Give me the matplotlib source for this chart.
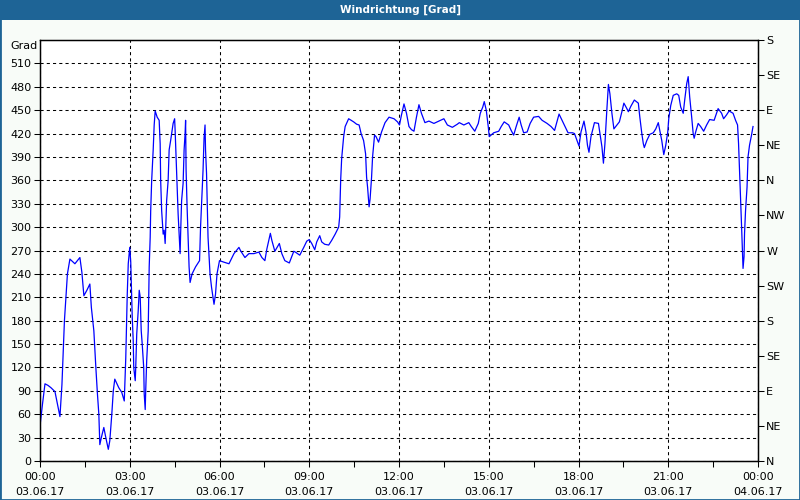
import matplotlib
matplotlib.use("Agg")
import matplotlib.pyplot as plt
import numpy as np
from matplotlib.ticker import MultipleLocator
from matplotlib.patches import Rectangle

# time of each reading in minutes after 03.06.17 00:00
minutes = [0, 5, 10, 16, 22, 30, 35, 40, 44, 46, 49, 52, 55, 60, 70, 80, 84, 88, 94, 100,
           103, 108, 112, 115, 118, 120, 123, 128, 132, 137, 140, 144, 147, 150, 158, 164, 169,
           172, 175, 177, 180, 182, 184, 185, 187, 188, 191, 192, 194, 197, 199, 201, 203, 205,
           208, 209, 211, 212, 214, 217, 219, 221, 222, 224, 227, 229, 231, 235, 239, 241, 242,
           244, 247, 249, 251, 252, 254, 257, 259, 262, 265, 267, 270, 271, 273, 275, 277, 279,
           281, 282, 284, 287, 289, 291, 292, 293, 295, 299, 301, 305, 312, 320, 322, 325, 327,
           329, 331, 332, 334, 337, 341, 344, 347, 349, 352, 355, 360, 369, 379, 389, 399, 402,
           411, 419, 429, 439, 445, 451, 455, 462, 465, 471, 480, 485, 491, 500, 509, 512, 521,
           529, 535, 540, 545, 551, 555, 561, 565, 571, 579, 585, 592, 599, 601, 603, 605, 609,
           612, 619, 629, 635, 640, 644, 649, 653, 655, 657, 660, 662, 665, 667, 671, 674, 679,
           685, 692, 700, 710, 717, 721, 725, 730, 735, 740, 745, 750, 755, 760, 765, 772, 780,
           790, 800, 810, 817, 827, 837, 841, 850, 860, 865, 872, 879, 883, 888, 891, 895, 899,
           901, 910, 920, 925, 931, 940, 945, 950, 955, 961, 965, 970, 977, 983, 990, 1000, 1007,
           1017, 1025, 1032, 1041, 1047, 1053, 1059, 1068, 1072, 1077, 1081, 1085, 1091, 1095,
           1098, 1101, 1105, 1112, 1120, 1123, 1127, 1130, 1133, 1137, 1140, 1143, 1147, 1151,
           1157, 1162, 1167, 1171, 1177, 1180, 1185, 1192, 1200, 1203, 1207, 1210, 1212, 1217,
           1223, 1230, 1235, 1240, 1243, 1247, 1251, 1255, 1259, 1261, 1265, 1270, 1277, 1281,
           1285, 1290, 1293, 1297, 1300, 1303, 1307, 1310, 1312, 1315, 1320, 1325, 1331, 1337,
           1343, 1352, 1360, 1367, 1371, 1377, 1382, 1390, 1395, 1399, 1401, 1403, 1405, 1407,
           1409, 1410, 1412, 1413, 1415, 1418, 1420, 1423, 1427, 1430]

# wind direction in degrees (values above 360 as shown on the chart)
degrees = [45, 73, 99, 97, 94, 89, 73, 57, 98, 132, 180, 210, 240, 259, 253, 261, 242, 212, 219, 227,
           197, 167, 120, 88, 60, 21, 30, 43, 30, 15, 26, 60, 90, 105, 94, 88, 77,
           132, 214, 253, 274, 255, 210, 184, 154, 120, 103, 120, 163, 193, 219, 210, 167, 150,
           120, 86, 66, 90, 129, 167, 249, 287, 321, 360, 399, 431, 449, 441, 437, 407, 360,
           321, 291, 296, 279, 296, 334, 360, 399, 411, 424, 433, 439, 424, 388, 351, 317, 291,
           266, 291, 334, 356, 399, 420, 437, 373, 326, 249, 229, 240, 249, 257, 300, 343, 373,
           414, 431, 399, 369, 287, 240, 223, 210, 201, 214, 240, 257, 255, 253, 266, 274, 270,
           261, 266, 266, 268, 261, 257, 272, 292, 283, 269, 279, 266, 257, 254, 269, 268, 264,
           274, 282, 284, 279, 271, 281, 289, 281, 278, 277, 283, 291, 300, 313, 360, 388, 416,
           429, 439, 435, 432, 431, 420, 411, 394, 364, 351, 326, 336, 364, 390, 418, 416, 409,
           422, 434, 441, 439, 435, 431, 444, 458, 446, 429, 425, 423, 441, 457, 446, 434, 436,
           433, 436, 439, 431, 428, 432, 434, 431, 434, 429, 423, 433, 446, 454, 461, 450, 429,
           416, 421, 423, 429, 435, 431, 424, 418, 429, 441, 431, 421, 422, 433, 441, 442, 437,
           433, 429, 424, 445, 437, 429, 421, 421, 420, 411, 404, 422, 436, 422,
           405, 396, 416, 434, 433, 420, 403, 382, 407, 452, 483, 471, 446, 426,
           431, 435, 448, 459, 452, 448, 455, 463, 459, 441, 420, 407, 402, 411,
           419, 421, 426, 434, 424, 411, 393, 405, 422, 439, 456, 469, 471, 469,
           454, 446, 463, 484, 493, 467, 441, 420, 414, 422, 433, 429, 423, 431,
           438, 437, 452, 446, 439, 444, 449, 446, 437, 431, 407, 373, 339, 302,
           266, 247, 262, 292, 321, 351, 390, 405, 418, 429]

x_ticks_h = [0, 3, 6, 9, 12, 15, 18, 21, 24]
x_tick_labels = ["00:00\n03.06.17", "03:00\n03.06.17", "06:00\n03.06.17", "09:00\n03.06.17",
                 "12:00\n03.06.17", "15:00\n03.06.17", "18:00\n03.06.17", "21:00\n03.06.17",
                 "00:00\n04.06.17"]
y_ticks = list(range(0, 511, 30))
compass_ticks = list(range(0, 541, 45))
compass_labels = ["N", "NE", "E", "SE", "S", "SW", "W", "NW", "N", "NE", "E", "SE", "S"]

W, H = 800, 500
fig = plt.figure(figsize=(8, 5), dpi=100, facecolor="#F8FCF8")

# header bar
hdr = 20
fig.patches.append(Rectangle((0, 1 - hdr / H), 1, hdr / H, transform=fig.transFigure,
                             facecolor="#1E6496", edgecolor="none", zorder=0))
fig.text(0.5, 1 - 10 / H, "Windrichtung [Grad]", color="white", ha="center", va="center",
         fontsize=7.5, fontweight="bold", family="DejaVu Sans")
# outer border
fig.patches.append(Rectangle((0, 0), 1, 1, transform=fig.transFigure, fill=False,
                             edgecolor="#1E6496", lw=2, zorder=10))

l, r, t, b = 40, 758, 40, 461
ax = fig.add_axes([l / W, 1 - b / H, (r - l) / W, (b - t) / H])
ax.set_facecolor("white")
hours = np.array(minutes) / 60.0
ax.plot(hours, degrees, color="#0000FF", lw=0.9, zorder=3)
ax.set_xlim(0, 24)
ax.set_ylim(0, 540)
ax.set_yticks(y_ticks)
ax.set_yticklabels([str(v) for v in y_ticks])
ax.set_xticks(x_ticks_h)
ax.set_xticklabels(x_tick_labels, linespacing=1.6)
ax.xaxis.set_minor_locator(MultipleLocator(1.5))
ax.grid(True, which="major", color="black", linestyle=(0, (3, 3)), lw=0.75, zorder=1)
for s in ax.spines.values():
    s.set_linewidth(1.0)
    s.set_color("black")
ax.tick_params(axis="both", which="both", direction="out", length=4, width=0.75,
               labelsize=8, colors="black", pad=2)
ax.tick_params(axis="x", which="major", pad=4)

ax2 = ax.twinx()
ax2.set_ylim(0, 540)
ax2.set_yticks(compass_ticks)
ax2.set_yticklabels(compass_labels)
ax2.tick_params(axis="y", direction="out", length=4, width=0.75, labelsize=8, pad=2)

fig.text(24 / W, 1 - 46 / H, "Grad", ha="center", va="center", fontsize=8)

fig.savefig("out.png", dpi=100, facecolor=fig.get_facecolor())
